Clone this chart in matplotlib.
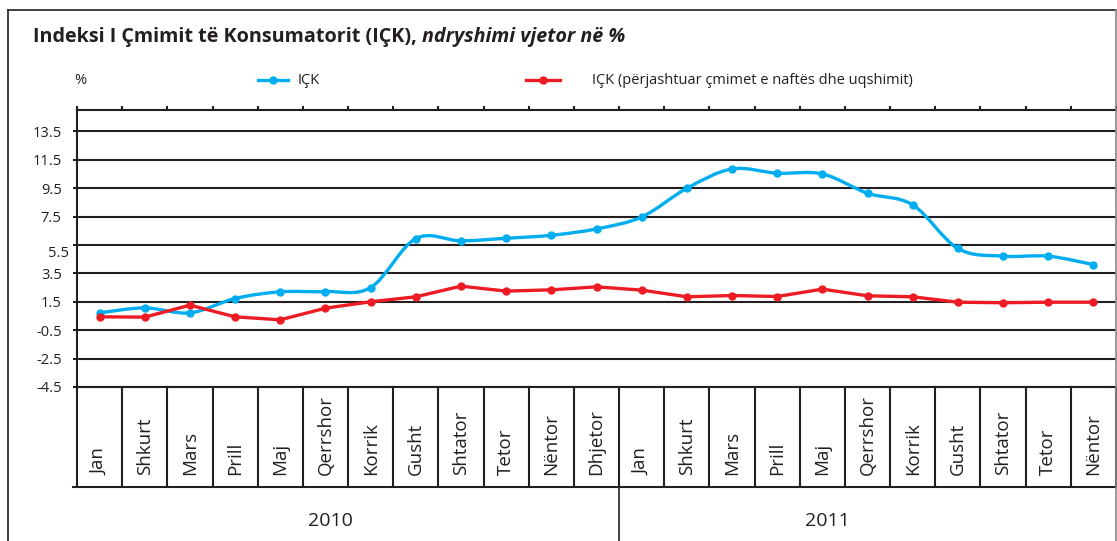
import matplotlib
matplotlib.use('Agg')
import matplotlib.pyplot as plt
import numpy as np
from matplotlib.lines import Line2D
from matplotlib.path import Path
from matplotlib.patches import PathPatch
import matplotlib.transforms as mtransforms

# Dati
muajt = ['Jan', 'Shkurt', 'Mars', 'Prill', 'Maj', 'Qerrshor', 'Korrik', 'Gusht',
         'Shtator', 'Tetor', 'Nëntor', 'Dhjetor',
         'Jan', 'Shkurt', 'Mars', 'Prill', 'Maj', 'Qerrshor', 'Korrik', 'Gusht',
         'Shtator', 'Tetor', 'Nëntor']
vitet = ['2010', '2011']
ick = [0.72, 1.07, 0.72, 1.73, 2.2, 2.22, 2.5, 5.95, 5.79, 5.97, 6.18, 6.63,
       7.47, 9.49, 10.85, 10.55, 10.5, 9.14, 8.32, 5.25, 4.71, 4.71, 4.12]
ick_perj = [0.44, 0.42, 1.26, 0.44, 0.23, 1.05, 1.5, 1.85, 2.6, 2.25, 2.34, 2.55,
            2.32, 1.85, 1.94, 1.87, 2.39, 1.92, 1.85, 1.47, 1.43, 1.47, 1.47]
yticks = [-4.5, -2.5, -0.5, 1.5, 3.5, 5.5, 7.5, 9.5, 11.5, 13.5]

plt.rcParams['font.family'] = ['Open Sans', 'DejaVu Sans']
ngjyra_txt = '#231f20'
blu = '#00aeef'
kuq = '#ed1c24'

W, H = 1117, 541
fig = plt.figure(figsize=(W / 100, H / 100), dpi=100)

def fx(x):
    return x / W

def fy(y):
    return 1 - y / H

ax = fig.add_axes([fx(77), fy(387), (1116 - 77) / W, (387 - 110) / H])
ax.set_xlim(-0.5, len(muajt) - 0.5)
ax.set_ylim(-4.5, 15.0)

x = np.arange(len(muajt))

# vija e lemuar per ICK (bezier si ne Excel)
px = np.array(x, dtype=float)
py = np.array(ick, dtype=float)
verts = [(px[0], py[0])]
codes = [Path.MOVETO]
n = len(px)
for i in range(n - 1):
    p0 = (px[max(i - 1, 0)], py[max(i - 1, 0)])
    p1 = (px[i], py[i])
    p2 = (px[i + 1], py[i + 1])
    p3 = (px[min(i + 2, n - 1)], py[min(i + 2, n - 1)])
    c1 = (p1[0] + (p2[0] - p0[0]) / 6, p1[1] + (p2[1] - p0[1]) / 6)
    c2 = (p2[0] - (p3[0] - p1[0]) / 6, p2[1] - (p3[1] - p1[1]) / 6)
    verts += [c1, c2, p2]
    codes += [Path.CURVE4] * 3
ax.add_patch(PathPatch(Path(verts, codes), facecolor='none', edgecolor=blu,
                       lw=2.4, zorder=4, capstyle='round', joinstyle='round'))
ax.plot(x, ick, 'o', color=blu, markersize=5, zorder=5)

ax.plot(x, ick_perj, '-o', color=kuq, lw=2.4, markersize=5, zorder=5)

# rrjeti
for v in yticks:
    ax.axhline(v, color=ngjyra_txt, lw=1.5, zorder=1)

ax.set_yticks(yticks)
# etiketa 5.5 eshte pak me poshte ne origjinal, vendoset vec
ax.set_yticklabels([('' if v == 5.5 else '%g' % v) for v in yticks],
                   fontsize=10.5, color=ngjyra_txt)
ax.annotate('5.5', xy=(0, 5.5), xycoords=('axes fraction', 'data'),
            xytext=(-8 * 0.72, -6), textcoords='offset points',
            ha='right', va='center', fontsize=10.5, color=ngjyra_txt)
ax.tick_params(axis='y', length=3, width=1.5, color=ngjyra_txt, pad=8)

kufijt = np.arange(-0.5, len(muajt), 1.0)
ax.set_xticks(kufijt)
ax.set_xticklabels([])
ax.tick_params(axis='x', bottom=True, top=True, direction='out', width=1.5,
               color=ngjyra_txt)
ax.tick_params(axis='x', which='major', length=72)
for t in ax.xaxis.get_major_ticks():
    t.tick2line.set_markersize(3)

for s in ['left', 'top', 'bottom']:
    ax.spines[s].set_linewidth(1.5)
    ax.spines[s].set_color(ngjyra_txt)
ax.spines['right'].set_visible(False)

# tabela e muajve
tr = mtransforms.blended_transform_factory(ax.transData, fig.transFigure)
for i, m in enumerate(muajt):
    ax.text(i, fy(475), m, transform=tr, rotation=90, ha='center', va='bottom',
            fontsize=13.5, color=ngjyra_txt)
fig.add_artist(Line2D([fx(73), fx(1116)], [fy(487), fy(487)], color=ngjyra_txt, lw=1.5))
ax.add_line(Line2D([11.5, 11.5], [fy(487), 0], transform=tr, color=ngjyra_txt,
                   lw=1.2, clip_on=False))
ax.text(5.1, fy(521), vitet[0], transform=tr, ha='center', va='center',
        fontsize=14, color=ngjyra_txt)
ax.text(16.1, fy(521), vitet[1], transform=tr, ha='center', va='center',
        fontsize=14, color=ngjyra_txt)

# legjenda
fig.text(fx(80), fy(80), '%', ha='center', va='center', fontsize=10.5, color=ngjyra_txt)
fig.add_artist(Line2D([fx(258), fx(288)], [fy(80), fy(80)], color=blu, lw=2.4))
fig.add_artist(Line2D([fx(273)], [fy(80)], color=blu, marker='o', markersize=5))
fig.text(fx(298), fy(80), 'IÇK', ha='left', va='center', fontsize=10.5, color=ngjyra_txt)
fig.add_artist(Line2D([fx(526), fx(560)], [fy(80), fy(80)], color=kuq, lw=2.4))
fig.add_artist(Line2D([fx(543)], [fy(80)], color=kuq, marker='o', markersize=5))
fig.text(fx(592), fy(80), 'IÇK (përjashtuar çmimet e naftës dhe uqshimit)',
         ha='left', va='center', fontsize=10.5, color=ngjyra_txt)

# titulli
t1 = fig.text(fx(33), fy(37), 'Indeksi I Çmimit të Konsumatorit (IÇK), ',
              ha='left', va='center', fontsize=14.2, fontweight='bold', color=ngjyra_txt)
fig.canvas.draw()
bb = t1.get_window_extent()
fig.text(bb.x1 / W, fy(37), 'ndryshimi vjetor në %', ha='left', va='center',
         fontsize=14.2, fontweight='bold', fontstyle='italic', color=ngjyra_txt)

# korniza
fig.add_artist(Line2D([fx(8), fx(8)], [fy(10), 0], color=ngjyra_txt, lw=1.2))
fig.add_artist(Line2D([fx(8), fx(1116)], [fy(10), fy(10)], color=ngjyra_txt, lw=1.2))
fig.add_artist(Line2D([fx(1116), fx(1116)], [fy(10), 0], color='#888888', lw=1.2))

plt.savefig('out.png', dpi=100)
plt.close()
